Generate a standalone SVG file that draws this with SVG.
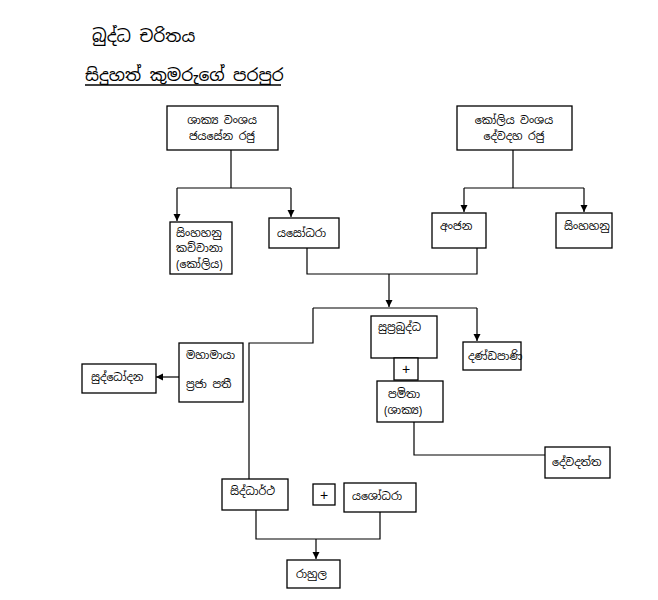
<svg xmlns="http://www.w3.org/2000/svg" width="658" height="600" viewBox="0 0 658 600">
<defs>
<marker id="ah" markerWidth="8" markerHeight="8" refX="7" refY="4" orient="auto" markerUnits="userSpaceOnUse">
<path d="M0,0.5 L7,4 L0,7.5 Z" fill="#000"/>
</marker>
<style>
.b{fill:#fff;stroke:#000;stroke-width:1.3}
.t{font-family:"Noto Sans Sinhala","Iskoola Pota","Noto Sans","DejaVu Sans",sans-serif;font-size:11px;fill:#000}
.p{font-family:"Liberation Sans",sans-serif;font-size:14px;fill:#000}
.h{font-family:"Noto Sans Sinhala","Iskoola Pota","Noto Sans","DejaVu Sans",sans-serif;font-size:17px;fill:#000}
.c{fill:none;stroke:#000;stroke-width:1.2}
.a{fill:none;stroke:#000;stroke-width:1.2;marker-end:url(#ah)}
</style>
</defs>
<rect width="658" height="600" fill="#fff"/>
<text class="h" x="92" y="42">බුද්ධ චරිතය</text>
<text class="h" x="85" y="81">සිදුහත් කුමරුගේ පරපුර</text>
<line x1="85" y1="85" x2="281" y2="85" stroke="#000" stroke-width="1.3"/>

<g id="connectors">
<polyline class="c" points="231,150 231,188"/>
<polyline class="a" points="177,188 177,221"/>
<polyline class="a" points="291,188 291,217"/>
<polyline class="c" points="177,188 291,188"/>
<polyline class="c" points="513,150 513,188"/>
<polyline class="c" points="464,188 584,188"/>
<polyline class="a" points="464,188 464,212"/>
<polyline class="a" points="584,188 584,212"/>
<polyline class="c" points="307,248 307,274 477,274 477,248"/>
<polyline class="a" points="389,274 389,307"/>
<polyline class="c" points="313,308 477,308"/>
<polyline class="a" points="477,308 477,341"/>
<polyline class="c" points="313,308 313,343 249,343 249,479"/>
<polyline class="a" points="179,377 156,377"/>
<polyline class="c" points="414,422 414,455 545,455"/>
<polyline class="c" points="256,510 256,539 380,539 380,512"/>
<polyline class="a" points="316,539 316,559"/>
</g>

<g id="shakya"><rect class="b" x="167" y="106" width="111" height="44"/><text class="t" x="222" y="124" text-anchor="middle">ශාක්‍ය වංශය</text><text class="t" x="222" y="140" text-anchor="middle">ජයසේන රජු</text></g>
<g id="koliya"><rect class="b" x="457" y="106" width="115" height="44"/><text class="t" x="514" y="124" text-anchor="middle">කෝලිය වංශය</text><text class="t" x="514" y="140" text-anchor="middle">දේවදහ රජු</text></g>
<g id="sinhahanu1"><rect class="b" x="170" y="222" width="62" height="52"/><text class="t" x="176" y="237">සිංහහනු</text><text class="t" x="176" y="252">කච්චානා</text><text class="t" x="176" y="268">(කෝලිය)</text></g>
<g id="yasodhara1"><rect class="b" x="269" y="218" width="70" height="30"/><text class="t" x="277" y="237">යසෝධරා</text></g>
<g id="anjana"><rect class="b" x="432" y="213" width="54" height="35"/><text class="t" x="440" y="230">අංජන</text></g>
<g id="sinhahanu2"><rect class="b" x="556" y="213" width="56" height="35"/><text class="t" x="564" y="230">සිංහහනු</text></g>
<g id="suprabuddha"><rect class="b" x="371" y="316" width="66" height="42"/><text class="t" x="378" y="331">සුප්‍රබුද්ධ</text></g>
<g id="plus1"><rect class="b" x="394" y="358" width="24" height="22"/><text class="p" x="406" y="374" text-anchor="middle">+</text></g>
<g id="pamita"><rect class="b" x="377" y="381" width="66" height="41"/><text class="t" x="388" y="398">පමිතා</text><text class="t" x="384" y="414">(ශාක්‍ය)</text></g>
<g id="dandapani"><rect class="b" x="463" y="342" width="58" height="28"/><text class="t" x="468" y="360">දණ්ඩපාණි</text></g>
<g id="mahamaya"><rect class="b" x="179" y="343" width="64" height="59"/><text class="t" x="186" y="359">මහාමායා</text><text class="t" x="186" y="388">ප්‍රජා පතී</text></g>
<g id="suddhodana"><rect class="b" x="82" y="364" width="74" height="29"/><text class="t" x="91" y="381">සුද්ධෝදන</text></g>
<g id="devadatta"><rect class="b" x="545" y="447" width="65" height="31"/><text class="t" x="552" y="466">දේවදත්ත</text></g>
<g id="siddhartha"><rect class="b" x="222" y="479" width="66" height="31"/><text class="t" x="230" y="495">සිද්ධාර්ථ</text></g>
<g id="plus2"><rect class="b" x="313" y="484" width="22" height="21"/><text class="p" x="324" y="500" text-anchor="middle">+</text></g>
<g id="yasodhara2"><rect class="b" x="344" y="483" width="72" height="29"/><text class="t" x="352" y="500">යශෝධරා</text></g>
<g id="rahula"><rect class="b" x="287" y="560" width="53" height="28"/><text class="t" x="296" y="578">රාහුල</text></g>
</svg>
